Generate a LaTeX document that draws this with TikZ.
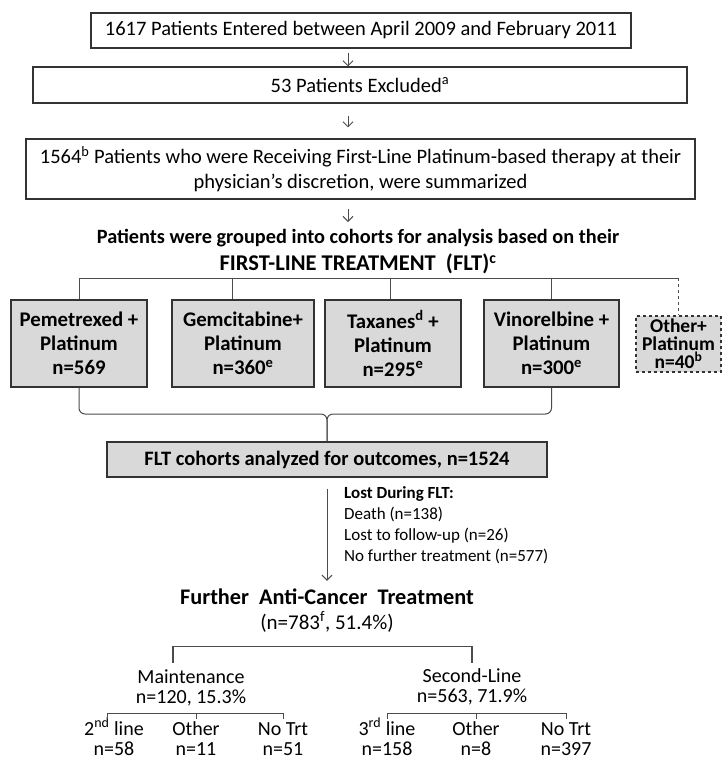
\documentclass[tikz,border=0pt]{standalone}
\usepackage{fontspec}
\setmainfont{Carlito}
\usetikzlibrary{arrows.meta}
\begin{document}
\begin{tikzpicture}[x=1pt,y=-1pt,
  box/.style={draw=black!80,line width=1.1pt,inner sep=0pt,align=center,
    font=\fontsize{20.5}{25}\selectfont},
  cohort/.style={box,fill=black!15,minimum height=87,
    font=\bfseries\fontsize{20.8}{24}\selectfont},
  line/.style={draw=black!70,line width=1pt},
  arr/.style={line,-{Straight Barb[length=5pt,width=10pt]}},
  txt/.style={inner sep=0pt,align=center,font=\fontsize{20}{20}\selectfont}]
\useasboundingbox (0,0) rectangle (722,758);

\node[box,minimum width=540,minimum height=35] (entered) at (361,30.5)
  {1617 Patients Entered between April 2009 and February 2011};
\node[box,minimum width=654,minimum height=36] (excluded) at (360,85)
  {53 Patients Excluded\textsuperscript{a}};
\node[box,minimum width=669,minimum height=60] (received) at (360.5,169)
  {1564\textsuperscript{b} Patients who were Receiving First-Line Platinum-based therapy at their\\
   physician’s discretion, were summarized};
\coordinate (ax) at (348,0);
\coordinate (groupedtop) at (348,222);
\draw[arr,shorten <=4] (entered.south -| ax) -- (excluded.north -| ax);
\draw[arr,shorten <=12,shorten >=11] (excluded.south -| ax) -- (received.north -| ax);
\draw[arr,shorten <=9] (received.south -| ax) -- (groupedtop);

%-------------------------------------
\node[inner sep=0pt,font=\bfseries\fontsize{20.3}{20}\selectfont] (grouped) at (358,238)
  {Patients were grouped into cohorts for analysis based on their};
\node[inner sep=0pt,font=\bfseries\fontsize{22.5}{22}\selectfont] (firstline) at (358,264)
  {FIRST-LINE TREATMENT~~(FLT)\textsuperscript{c}};

\node[cohort,minimum width=136] (pem) at (79,343.5) {Pemetrexed +\\Platinum\\n=569};
\node[cohort,minimum width=142] (gem) at (243,343.5) {Gemcitabine+\\Platinum\\n=360\textsuperscript{e}};
\node[cohort,minimum width=136] (tax) at (393,343.5) {Taxanes\textsuperscript{d} +\\Platinum\\n=295\textsuperscript{e}};
\node[cohort,minimum width=135] (vin) at (551.5,343.5) {Vinorelbine +\\Platinum\\n=300\textsuperscript{e}};
\node[cohort,dashed,minimum width=85,minimum height=56,
  font=\bfseries\fontsize{19.5}{18}\selectfont] (other) at (678.5,344) {Other+\\Platinum\\n=40\textsuperscript{b}};

\coordinate (bus) at (0,278);
\draw[line] (pem.north) -- (pem.north |- bus) -- (bus -| other.north);
\draw[line] ([xshift=-11pt]gem.north) -- ([xshift=-11pt]gem.north |- bus);
\draw[line] ([xshift=-3pt]tax.north) -- ([xshift=-3pt]tax.north |- bus);
\draw[line] (vin.north) -- (vin.north |- bus);
\draw[line,dashed] (bus -| other.north) -- (other.north);

%-------------------------------------
\node[box,fill=black!15,minimum width=440,minimum height=35,
  font=\bfseries\fontsize{20.5}{22}\selectfont] (analyzed) at (327,459.5)
  {FLT cohorts analyzed for outcomes, n=1524};
\coordinate (brace) at (327,414);
\draw[line,rounded corners=6] (pem.south) |- (brace) -- (analyzed.north);
\draw[line,rounded corners=6] (vin.south) |- (brace) -- (analyzed.north);

\node[txt,anchor=north west,align=left,font=\fontsize{17}{21}\selectfont] (lost) at (344,486)
  {\textbf{Lost During FLT:}\\Death (n=138)\\Lost to follow-up (n=26)\\No further treatment (n=577)};

\node[inner sep=0pt,font=\bfseries\fontsize{22.3}{22}\selectfont] (further) at (327,597)
  {Further~~Anti-Cancer~~Treatment};
\node[txt,font=\fontsize{21}{21}\selectfont] (pct) at (327,622) {(n=783\textsuperscript{f}, 51.4\%)};
\draw[arr,shorten <=11,shorten >=8] (analyzed.south -| further) -- (further.north);

%-------------------------------------
\node[txt] (maint) at (191,688) {Maintenance\\n=120, 15.3\%};
\node[txt] (second) at (472,687) {Second-Line\\n=563, 71.9\%};
\draw[line,line width=1.4pt] ([xshift=-18pt,yshift=7pt]maint.north) -- ++(0,-16) -| ([yshift=6pt]second.north);

\node[txt,anchor=base] (line2) at (114,755) {2\textsuperscript{nd} line\\n=58};
\node[txt,anchor=base] (oth2) at (196,755) {Other\\n=11};
\node[txt,anchor=base] (none2) at (283,755) {No Trt\\n=51};
\node[txt,anchor=base] (line3) at (387,755) {3\textsuperscript{rd} line\\n=158};
\node[txt,anchor=base] (oth3) at (476,755) {Other\\n=8};
\node[txt,anchor=base] (none3) at (566,755) {No Trt\\n=397};
\coordinate (subtick) at (0,719);
\draw[line] ([xshift=-7pt]line2.center |- subtick) -- ++(0,-6) -| (none2.center |- subtick);
\draw[line] (oth2.center |- subtick) -- ++(0,-6);
\draw[line] (line3.center |- subtick) -- ++(0,-6) -| (none3.center |- subtick);
\draw[line] (oth3.center |- subtick) -- ++(0,-6);

\end{tikzpicture}
\end{document}
